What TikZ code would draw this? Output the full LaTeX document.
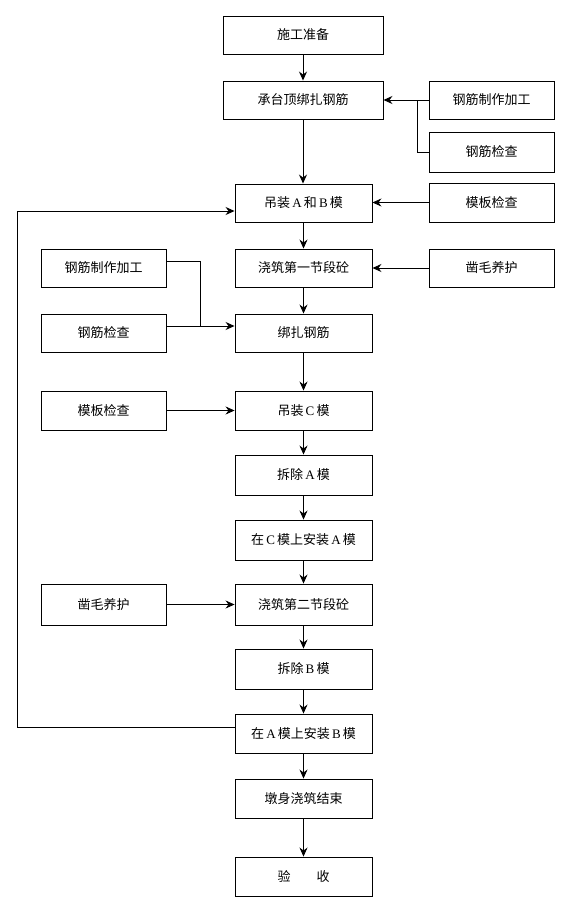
\documentclass[tikz,border=0pt]{standalone}
\usepackage{fontspec}
\setmainfont{Liberation Serif}
\newfontfamily\cjk{Noto Sans CJK SC}
\usetikzlibrary{arrows.meta}
\begin{document}
\begin{tikzpicture}[x=1pt,y=-1pt,
  box/.style={draw,line width=0.9pt,minimum height=38pt,inner sep=0pt,font=\fontsize{13}{15}\selectfont\cjk},
  mainbox/.style={box,minimum width=137pt},
  topbox/.style={box,minimum width=160pt},
  sidebox/.style={box,minimum width=125pt},
  conn/.style={line width=0.9pt},
  arr/.style={conn,-{Stealth[length=9pt,width=8pt,inset=3pt]}}]
\useasboundingbox (0,0) rectangle (576,905);
% main column
\node[topbox] (prep) at (303,35) {施工准备};
\node[topbox] (rebar) at (303,100) {承台顶绑扎钢筋};
\node[mainbox] (hangAB) at (303.5,203) {吊装\,{\rmfamily A}\,和\,{\rmfamily B}\,模};
\node[mainbox] (pour1) at (303.5,268) {浇筑第一节段砼};
\node[mainbox] (tie) at (303.5,333) {绑扎钢筋};
\node[mainbox,minimum height=39pt] (hangC) at (303.5,410.5) {吊装\,{\rmfamily C}\,模};
\node[mainbox,minimum height=40pt] (remA) at (303.5,475) {拆除\,{\rmfamily A}\,模};
\node[mainbox,minimum height=40pt] (instA) at (303.5,540) {在\,{\rmfamily C}\,模上安装\,{\rmfamily A}\,模};
\node[mainbox,minimum height=41pt] (pour2) at (303.5,604.5) {浇筑第二节段砼};
\node[mainbox,minimum height=40pt] (remB) at (303.5,669) {拆除\,{\rmfamily B}\,模};
\node[mainbox,minimum height=39pt] (instB) at (303.5,733.5) {在\,{\rmfamily A}\,模上安装\,{\rmfamily B}\,模};
\node[mainbox,minimum height=39pt] (fin) at (303.5,798.5) {墩身浇筑结束};
\node[mainbox,minimum height=39pt] (acc) at (303.5,876.5) {验\hspace{2em}收};
% right side
\node[sidebox] (rfabR) at (491.5,100) {钢筋制作加工};
\node[sidebox,minimum height=40pt] (rchkR) at (491.5,152) {钢筋检查};
\node[sidebox,minimum height=39pt] (fchkR) at (491.5,202.5) {模板检查};
\node[sidebox] (chiselR) at (491.5,268) {凿毛养护};
% left side
\node[sidebox] (rfabL) at (103.5,268) {钢筋制作加工};
\node[sidebox] (rchkL) at (103.5,333) {钢筋检查};
\node[sidebox,minimum height=39pt] (fchkL) at (103.5,410.5) {模板检查};
\node[sidebox,minimum height=41pt] (chiselL) at (103.5,604.5) {凿毛养护};
% main flow
\draw[arr] (prep) -- (rebar);
\draw[arr] (rebar.south) -- (rebar.south |- hangAB.north);
\draw[arr] (hangAB.south) -- (pour1.north);
\draw[arr] (pour1) -- (tie);
\draw[arr] (tie) -- (hangC);
\draw[arr] (hangC) -- (remA);
\draw[arr] (remA) -- (instA);
\draw[arr] (instA) -- (pour2);
\draw[arr] (pour2) -- (remB);
\draw[arr] (remB) -- (instB);
\draw[arr] (instB) -- (fin);
\draw[arr] (fin) -- (acc);
% right inputs
\coordinate (jR) at (417,100);
\draw[conn] (rfabR.west) -- (jR) |- (rchkR.west);
\draw[arr] (jR) -- (rebar.east);
\draw[arr] (fchkR.west) -- (fchkR.west -| hangAB.east);
\draw[arr] (chiselR.west) -- (pour1.east);
% left inputs
\coordinate (jL) at (200,261);
\coordinate (pa) at ([yshift=7pt]rfabL.east);
\coordinate (pb) at ([yshift=7pt]rchkL.east);
\coordinate (pc) at ([yshift=7pt]tie.west);
\draw[conn] (pa) -- (jL) -- (jL |- pb);
\draw[arr] (pb) -- (pc);
\draw[arr] (fchkL.east) -- (hangC.west);
\draw[arr] (chiselL.east) -- (pour2.west);
% loop back
\coordinate (lb) at (17,727);
\coordinate (lt) at (17,211);
\coordinate (pd) at ([yshift=6.5pt]instB.west);
\coordinate (pe) at ([yshift=-8pt]hangAB.west);
\draw[conn] (pd) -- (lb) -- (lt);
\draw[arr] (lt) -- (pe);
\end{tikzpicture}
\end{document}
